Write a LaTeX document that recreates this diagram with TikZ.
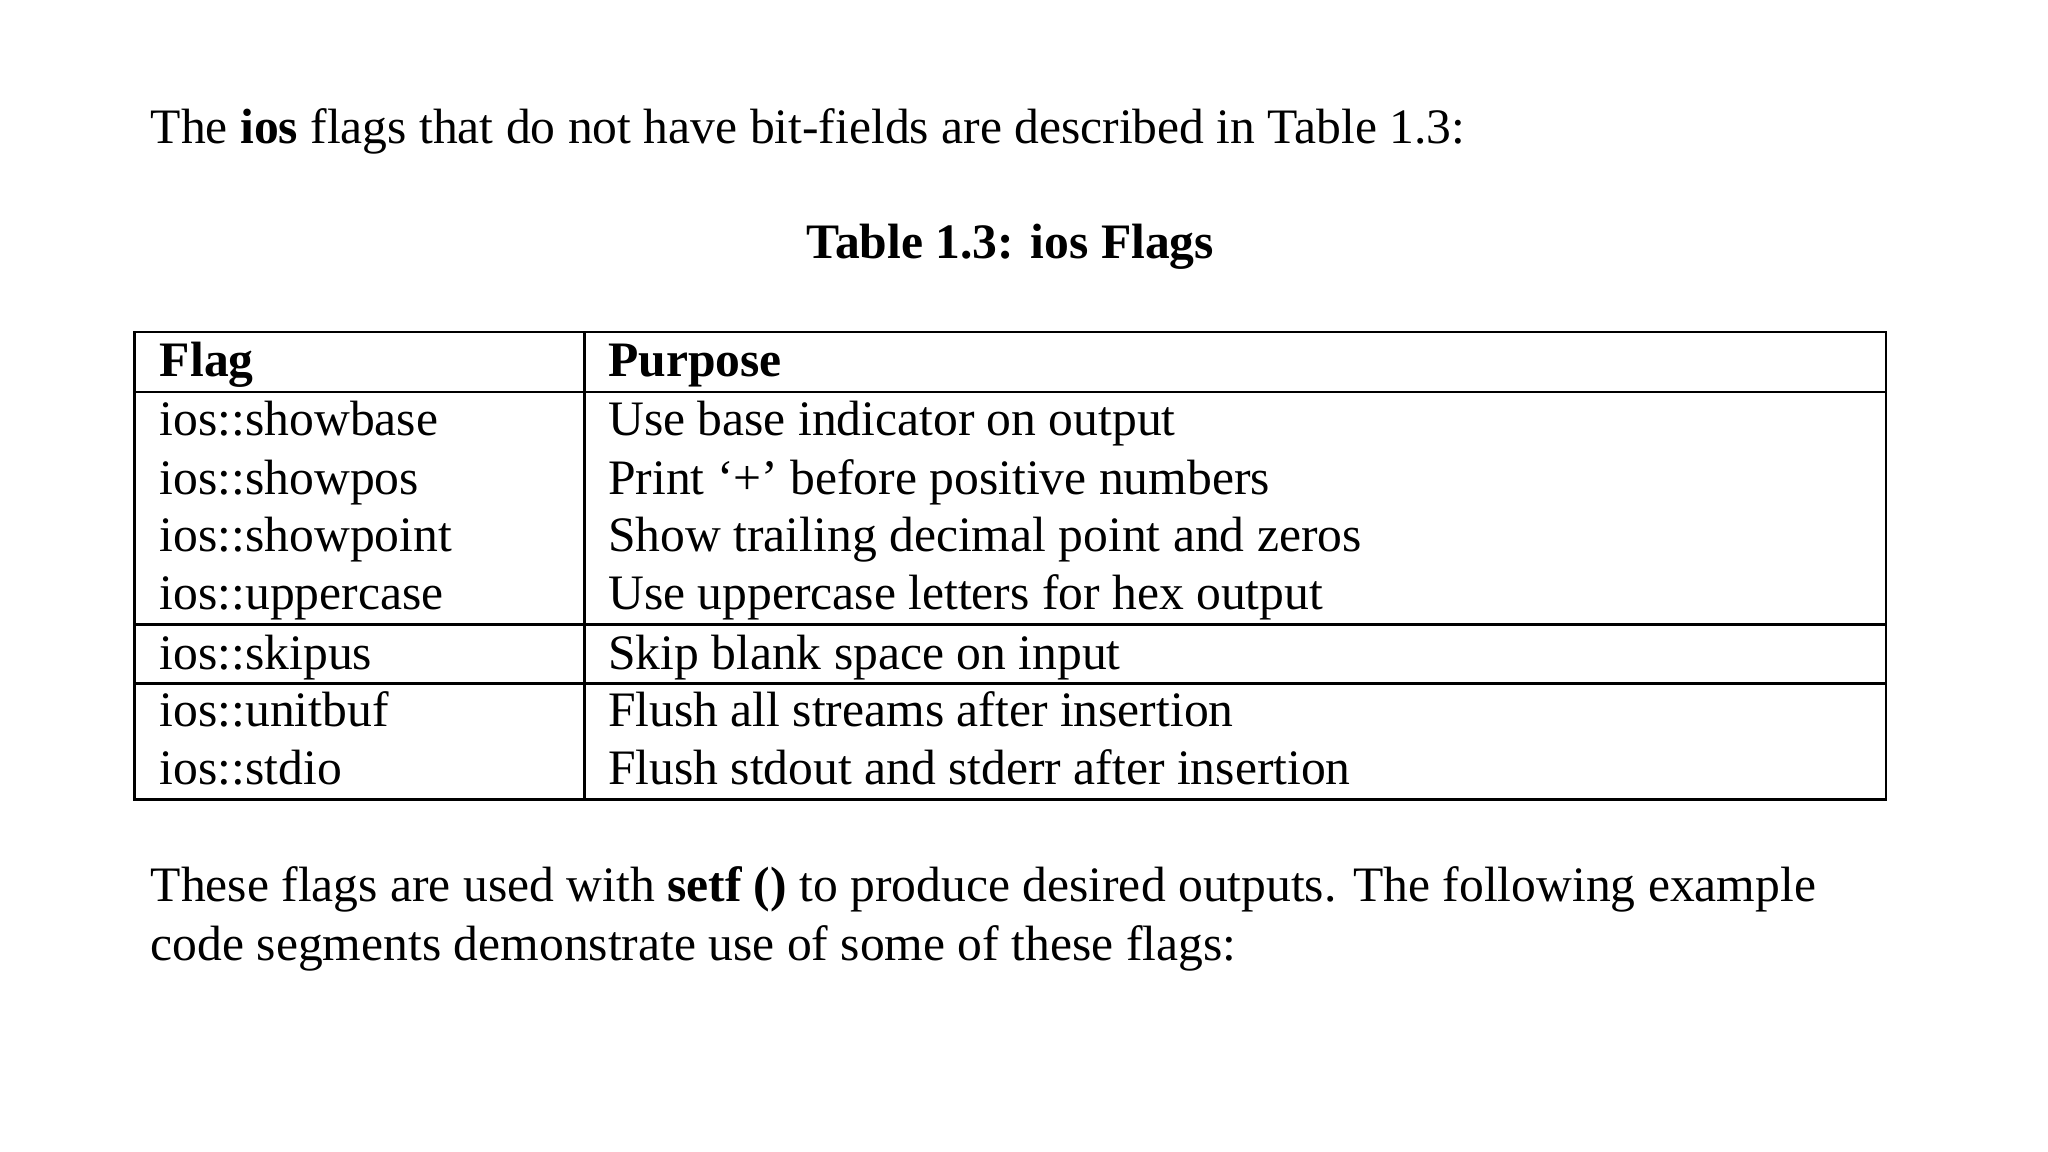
\documentclass[tikz,border=0pt]{standalone}
\usepackage{fontspec}
\setmainfont{Liberation Serif}
\begin{document}
\begin{tikzpicture}[x=0.02cm,y=-0.02cm,
  txt/.style={anchor=base west,inner sep=0pt,font=\fontsize{21.6}{26}\selectfont},
  rule/.style={line width=1.2pt}]
\useasboundingbox (0,0) rectangle (1567,881);
\node[txt] (p1) at (115,110) {The \textbf{ios} flags that do not have bit-fields are described in Table 1.3:};
\node[txt,anchor=base] (title) at (773,198) {\textbf{Table 1.3: ios Flags}};
\coordinate (tl) at (103,254); \coordinate (br) at (1443,612);
\draw[rule] (tl) rectangle (br);
\coordinate (d1) at (447,254); \coordinate (d2) at (447,612);
\draw[rule] (d1) -- (d2);
\coordinate (h1) at (103,300); \coordinate (h2) at (1443,300);
\coordinate (u1) at (103,478); \coordinate (u2) at (1443,478);
\coordinate (s1) at (103,523); \coordinate (s2) at (1443,523);
\draw[rule] (h1) -- (h2); \draw[rule] (u1) -- (u2); \draw[rule] (s1) -- (s2);
\node[txt] (fh) at (122,288) {\textbf{Flag}};
\node[txt] (ph) at (465,288) {\textbf{Purpose}};
\node[txt] (f1) at (122,333) {ios::showbase};
\node[txt] (q1) at (465,333) {Use base indicator on output};
\node[txt] (f2) at (122,378) {ios::showpos};
\node[txt] (q2) at (465,378) {Print ‘+’ before positive numbers};
\node[txt] (f3) at (122,422) {ios::showpoint};
\node[txt] (q3) at (465,422) {Show trailing decimal point and zeros};
\node[txt] (f4) at (122,466) {ios::uppercase};
\node[txt] (q4) at (465,466) {Use uppercase letters for hex output};
\node[txt] (f5) at (122,512) {ios::skipus};
\node[txt] (q5) at (465,512) {Skip blank space on input};
\node[txt] (f6) at (122,556) {ios::unitbuf};
\node[txt] (q6) at (465,556) {Flush all streams after insertion};
\node[txt] (f7) at (122,600) {ios::stdio};
\node[txt] (q7) at (465,600) {Flush stdout and stderr after insertion};
\node[txt] (p2) at (115,690) {These flags are used with \textbf{setf ()} to produce desired outputs. The following example};
\node[txt] (p3) at (115,735) {code segments demonstrate use of some of these flags:};
\end{tikzpicture}
\end{document}
